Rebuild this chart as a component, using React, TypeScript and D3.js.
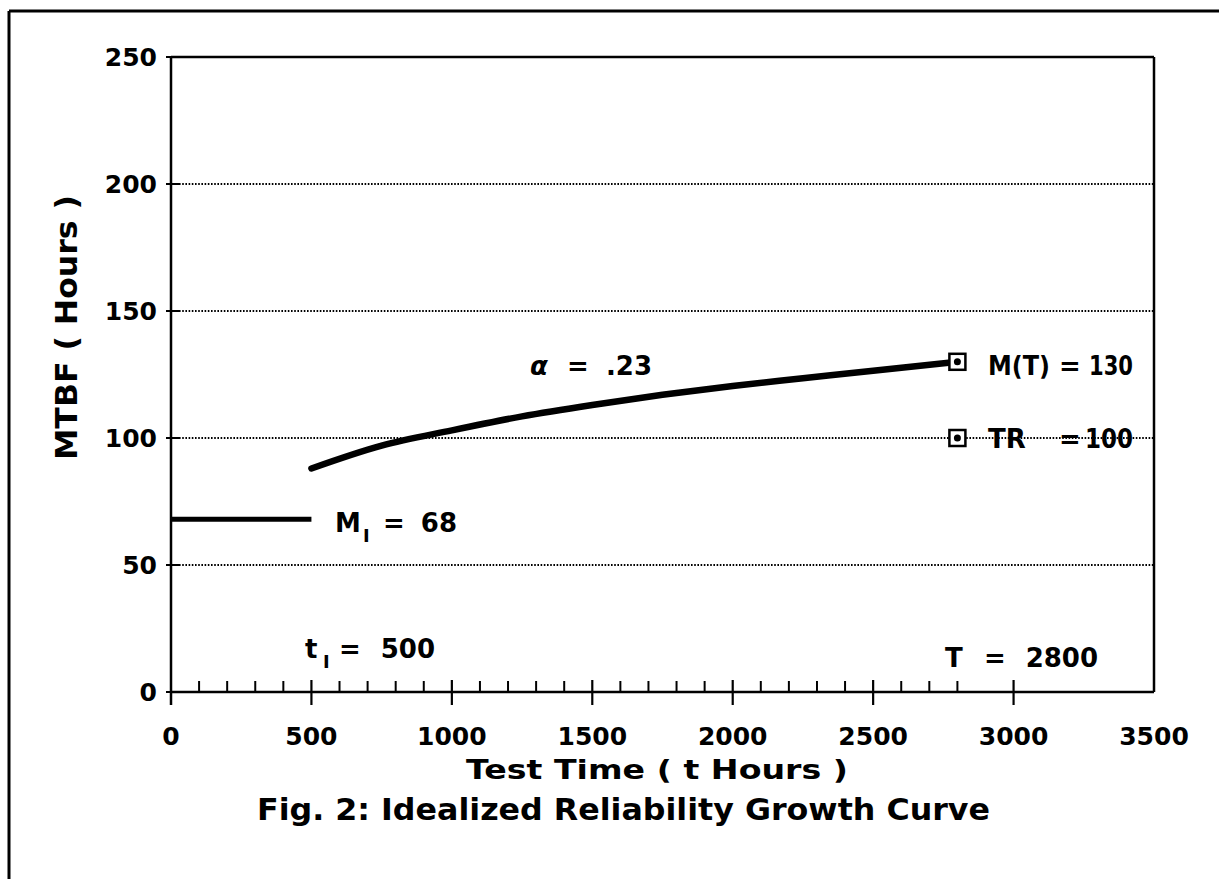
import React from "react";
import * as d3 from "d3";

const curveTime = [500, 750, 1000, 1250, 1500, 1750, 2000, 2250, 2500, 2800];
const curveMTBF = [88, 97, 103, 108.5, 113, 117, 120.5, 123.5, 126.5, 130];
const initialTime = [0, 500];
const initialMTBF = [68, 68];
const yTicks = [0, 50, 100, 150, 200, 250];
const yGrid = [50, 100, 150, 200];
const xTicks = [0, 500, 1000, 1500, 2000, 2500, 3000, 3500];
const xMajorTicks = [500, 1000, 1500, 2000, 2500, 3000];
const xMinorTicks = [100, 200, 300, 400, 600, 700, 800, 900, 1100, 1200, 1300, 1400, 1600, 1700, 1800, 1900, 2100, 2200, 2300, 2400, 2600, 2700, 2800];
const markerT = [2800, 2800];
const markerM = [130, 100];

const W = 1219;
const H = 879;
const FONT = "'DejaVu Sans', sans-serif";

export default function App() {
  const x = d3.scaleLinear().domain([0, 3500]).range([171, 1154]);
  const y = d3.scaleLinear().domain([0, 250]).range([692, 57]);
  const line = d3
    .line<number>()
    .x((_, i) => x(curveTime[i]))
    .y((d) => y(d))
    .curve(d3.curveMonotoneX);
  const flat = d3
    .line<number>()
    .x((_, i) => x(initialTime[i]))
    .y((d) => y(d));

  const x0 = x(0), x1 = x(3500), yTop = y(250), yBot = y(0);

  return (
    <svg width={W} height={H} style={{ position: "absolute", left: 0, top: 0, background: "#fff" }} fontFamily={FONT} fontWeight="bold">
      <rect x={0} y={0} width={W} height={H} fill="#fff" />
      {/* outer frame */}
      <line x1={9} y1={11} x2={W} y2={11} stroke="#000" strokeWidth={3} />
      <line x1={9} y1={11} x2={9} y2={H} stroke="#000" strokeWidth={3} />

      {/* grid lines */}
      {yGrid.map((v) => (
        <g key={v}>
          <line x1={x0} x2={x0 + 8} y1={y(v)} y2={y(v)} stroke="#000" strokeWidth={2} />
          <line x1={x0 + 8} x2={x1} y1={y(v)} y2={y(v)} stroke="#000" strokeWidth={1.8} strokeDasharray="1.6,1.6" />
        </g>
      ))}

      {/* plot frame */}
      <line x1={x0} x2={x1} y1={yTop} y2={yTop} stroke="#000" strokeWidth={2.5} />
      <line x1={x1} x2={x1} y1={yTop} y2={yBot} stroke="#000" strokeWidth={2.5} />
      <line x1={x0} x2={x1} y1={yBot} y2={yBot} stroke="#000" strokeWidth={2.5} />
      <line x1={x0} x2={x0} y1={yTop} y2={yBot + 13} stroke="#000" strokeWidth={2.5} />

      {/* y ticks */}
      {yTicks.map((v) => (
        <g key={v}>
          <line x1={x0 - 5} x2={x0} y1={y(v)} y2={y(v)} stroke="#000" strokeWidth={2} />
          <text x={157} y={y(v) + 9} textAnchor="end" fontSize={25}>{v}</text>
        </g>
      ))}

      {/* x ticks */}
      {xMinorTicks.map((v) => (
        <line key={v} x1={x(v)} x2={x(v)} y1={yBot - 11} y2={yBot} stroke="#000" strokeWidth={2} />
      ))}
      {xMajorTicks.map((v) => (
        <line key={v} x1={x(v)} x2={x(v)} y1={yBot - 12} y2={yBot + 13} stroke="#000" strokeWidth={2.2} />
      ))}
      {xTicks.map((v) => (
        <text key={v} x={x(v)} y={745} textAnchor="middle" fontSize={25}>{v}</text>
      ))}

      {/* axis titles */}
      <text x={466} y={779} fontSize={27} textLength={382} lengthAdjust="spacingAndGlyphs">Test Time ( t Hours )</text>
      <text x={257} y={820} fontSize={30} textLength={733} lengthAdjust="spacingAndGlyphs">Fig. 2: Idealized Reliability Growth Curve</text>
      <text transform={`translate(77,460) rotate(-90)`} fontSize={30} textLength={265} lengthAdjust="spacingAndGlyphs">MTBF ( Hours )</text>

      {/* data */}
      <path d={flat(initialMTBF) || ""} fill="none" stroke="#000" strokeWidth={5} />
      <path d={line(curveMTBF) || ""} fill="none" stroke="#000" strokeWidth={6.5} strokeLinecap="round" />

      {markerM.map((m, i) => (
        <g key={i}>
          <rect x={x(markerT[i]) - 8} y={y(m) - 8} width={16} height={16} fill="#fff" stroke="#000" strokeWidth={2.5} />
          <circle cx={x(markerT[i])} cy={y(m)} r={3.5} fill="#000" />
        </g>
      ))}

      {/* annotations */}
      <g fontSize={26}>
        <text x={530} y={375} fontStyle="italic">α</text>
        <text x={578} y={375} textAnchor="middle">=</text>
        <text x={652} y={375} textAnchor="end">.23</text>

        <text x={988} y={375} textLength={62} lengthAdjust="spacingAndGlyphs">M(T)</text>
        <text x={1070} y={375} textAnchor="middle">=</text>
        <text x={1089} y={375} textLength={44} lengthAdjust="spacingAndGlyphs">130</text>

        <text x={988} y={448}>TR</text>
        <text x={1070} y={448} textAnchor="middle">=</text>
        <text x={1085} y={448} textLength={48} lengthAdjust="spacingAndGlyphs">100</text>

        <text x={335} y={532}>M</text>
        <text x={363} y={542} fontSize={18}>I</text>
        <text x={394} y={532} textAnchor="middle">=</text>
        <text x={457} y={532} textAnchor="end">68</text>

        <text x={305} y={658}>t</text>
        <text x={323} y={668} fontSize={18}>I</text>
        <text x={350} y={658} textAnchor="middle">=</text>
        <text x={435} y={658} textAnchor="end">500</text>

        <text x={945} y={667}>T</text>
        <text x={995} y={667} textAnchor="middle">=</text>
        <text x={1098} y={667} textAnchor="end">2800</text>
      </g>
    </svg>
  );
}
